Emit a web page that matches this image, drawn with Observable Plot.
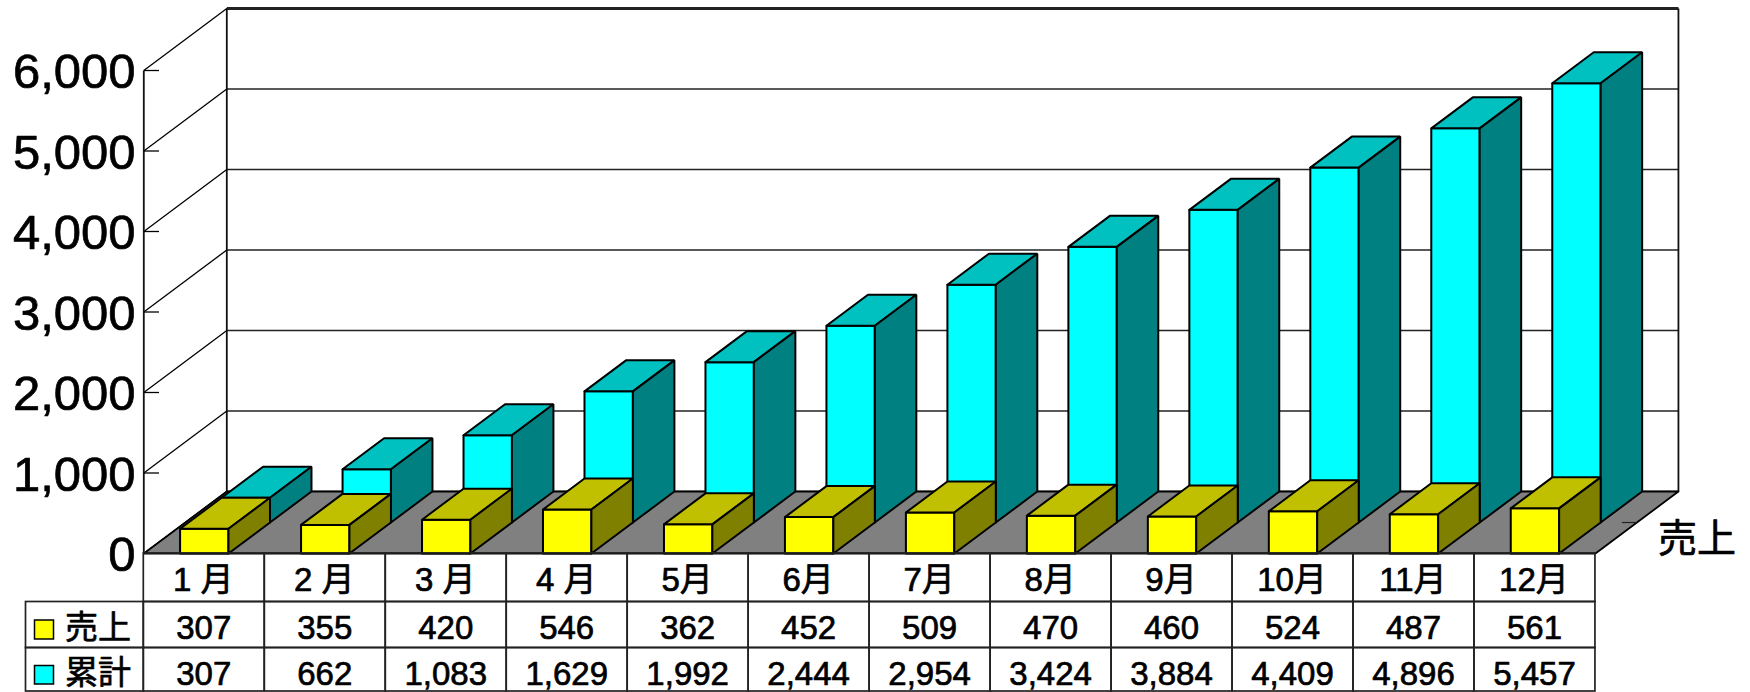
<!DOCTYPE html>
<html><head><meta charset="utf-8">
<script src="https://cdn.jsdelivr.net/npm/d3@7"></script>
<script src="https://cdn.jsdelivr.net/npm/@observablehq/plot@0.6"></script>
<style>html,body{margin:0;padding:0;background:#fff}svg{display:block}</style>
</head><body><div id="chart"></div>
<script>
const months = ["1 月","2 月","3 月","4 月","5月","6月","7月","8月","9月","10月","11月","12月"];
const sales = [307,355,420,546,362,452,509,470,460,524,487,561];
const cumulative = [307,662,1083,1629,1992,2444,2954,3424,3884,4409,4896,5457];
const yTicks = [0,1000,2000,3000,4000,5000,6000];
const seriesNames = ["売上","累計"];

const W = 1750, H = 692;
const catPx = 120.97, valPx = 0.0805, x0 = 143.3, y0 = 553;
const cx = px => (px - x0) / catPx;          // pixel → category units (layout only)
const vy = py => (y0 - py) / valPx;          // pixel → value units (layout only)
const DX = 41.5 / catPx, DY = 31 / valPx;    // one depth row in data units
const BAR = 0.4;
const FONT = '"Liberation Sans","Noto Sans CJK JP",sans-serif';
const INK = "#000";

const P = (c, v, d) => ({x: c + d * DX, y: v + d * DY});
function box(i, v, d, name, front, top, side) {
  const l = i + (1 - BAR) / 2, r = l + BAR;
  const poly = (tag, fill, pts) => pts.concat([pts[0]]).map(p => ({...p, face: name + i + tag, fill}));
  return [
    ...poly("f", front, [P(l,0,d),P(r,0,d),P(r,v,d),P(l,v,d)]),
    ...poly("t", top, [P(l,v,d),P(r,v,d),P(r,v,d+1),P(l,v,d+1)]),
    ...poly("s", side, [P(r,0,d),P(r,0,d+1),P(r,v,d+1),P(r,v,d)])
  ];
}
const faces = [
  ...cumulative.flatMap((v,i) => box(i, v, 1, "c", "#00FFFF", "#00C0C0", "#008080")),
  ...sales.flatMap((v,i) => box(i, v, 0, "s", "#FFFF00", "#C0C000", "#808000"))
];
const floor = [P(0,0,0),P(12,0,0),P(12,0,2),P(0,0,2),P(0,0,0)];

const rowEdges = [553, 601.5, 647.5, 691].map(vy);
const labelX = cx(25.5);
const monthCells = months.map((m,i) => ({x1:i, x2:i+1, y1:rowEdges[0], y2:rowEdges[1], text:m, c:i+.5}));
const valueCells = [sales, cumulative].flatMap((arr,r) => arr.map((v,i) => ({x1:i, x2:i+1, y1:rowEdges[r+1], y2:rowEdges[r+2], text:d3.format(",")(v), c:i+.5, r})));
const nameCells = seriesNames.map((n,r) => ({x1:labelX, x2:0, y1:rowEdges[r+1], y2:rowEdges[r+2], text:n, r}));
const swatches = [{c:"#FFFF00",a:620,b:639},{c:"#00FFFF",a:665.5,b:684}];
const txt = {fontFamily:FONT, fill:INK, stroke:INK, strokeWidth:0.7, textAnchor:"middle", lineAnchor:"middle"};

const chart = Plot.plot({
  width: W, height: H, margin: 0,
  x: {type:"linear", domain:[cx(0), cx(W)], range:[0,W], axis:null},
  y: {type:"linear", domain:[vy(H), vy(0)], range:[H,0], axis:null},
  style: {background:"#fff", fontFamily:FONT},
  marks: [
    // back wall
    Plot.link(yTicks, {x1:2*DX, x2:12+2*DX, y1:d=>d+2*DY, y2:d=>d+2*DY, stroke:"#222", strokeWidth:d=>d===6000?3:1.7}),
    Plot.link([0,12], {x1:d=>d+2*DX, x2:d=>d+2*DX, y1:2*DY, y2:6000+2*DY, stroke:"#111", strokeWidth:1.8}),
    // left wall
    Plot.link(yTicks, {x1:0, x2:2*DX, y1:d=>d, y2:d=>d+2*DY, stroke:INK, strokeWidth:1.3}),
    Plot.link([0], {x1:0, x2:0, y1:0, y2:6000, stroke:"#111", strokeWidth:1.8}),
    Plot.link(yTicks.slice(1), {x1:0, x2:cx(158.5), y1:d=>d, y2:d=>d, stroke:INK, strokeWidth:1.3}),
    // floor
    Plot.line(floor, {x:"x", y:"y", fill:"#808080", stroke:INK, strokeWidth:1.8}),
    Plot.link([12+DX], {x1:d=>d-15/catPx, x2:d=>d, y1:DY, y2:DY, stroke:"#222", strokeWidth:1.2}),
    // bars
    Plot.line(faces, {x:"x", y:"y", z:"face", fill:"fill", stroke:INK, strokeWidth:2, strokeLinejoin:"miter"}),
    // y axis labels
    Plot.axisY(yTicks, {x:cx(143), anchor:"left", tickSize:0, tickPadding:8, tickFormat:d3.format(","), fontSize:49, fontFamily:FONT, fill:INK, textStroke:INK, textStrokeWidth:0.7, dy:2, label:null}),
    Plot.text([seriesNames[0]], {x:cx(1696.5), y:vy(539), text:d=>d, fontSize:39, fontFamily:'"Noto Sans CJK JP"', fill:INK, stroke:INK, strokeWidth:0.7, textAnchor:"middle", lineAnchor:"middle"}),
    // data table
    Plot.rect([...monthCells, ...valueCells, ...nameCells], {x1:"x1", x2:"x2", y1:"y1", y2:"y2", fill:"none", stroke:"#222", strokeWidth:1.7}),
    Plot.text(monthCells, {...txt, x:"c", y:vy(579.5), text:"text", fontSize:33, dx:-1}),
    Plot.text(valueCells, {...txt, x:"c", y:d=>vy(d.r?674:628), text:"text", fontSize:33, dx:-0.5}),
    Plot.rect(swatches, {x1:cx(34.5), x2:cx(53.5), y1:d=>vy(d.a), y2:d=>vy(d.b), fill:"c", stroke:INK, strokeWidth:1.5}),
    Plot.text(nameCells, {...txt, x:cx(97.5), y:d=>vy(d.r?673:628), text:"text", fontSize:33})
  ]
});
document.getElementById("chart").append(chart);
</script></body></html>
